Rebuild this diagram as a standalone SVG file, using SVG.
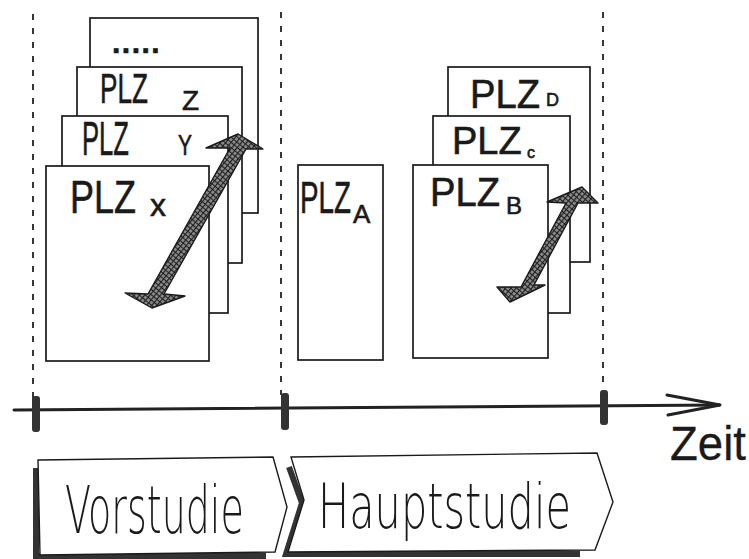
<svg xmlns="http://www.w3.org/2000/svg" width="749" height="559" viewBox="0 0 749 559">
<defs>
<pattern id="hatch" width="4" height="4" patternUnits="userSpaceOnUse" patternTransform="rotate(40)">
<rect width="4" height="4" fill="#8a8a8a"/>
<path d="M0,0.5 H4 M0.5,0 V4" stroke="#1e1e1e" stroke-width="1.2"/>
</pattern>
</defs>
<style>
.bg{fill:#fff}
.box{fill:#fff;stroke:#1a1a1a;stroke-width:1.7}
.dash{fill:none;stroke:#222;stroke-width:1.8;stroke-dasharray:6 8}
.lbl{font-family:"Liberation Sans",Arial,sans-serif;fill:#1a1a1a;stroke:#1a1a1a;stroke-width:0.6}
.thin{font-family:"DejaVu Sans","Liberation Sans",sans-serif;font-weight:200;fill:#1a1a1a}
.arr{fill:url(#hatch);stroke:#1a1a1a;stroke-width:1.4;stroke-linejoin:round}
.tick{fill:#333}
.shadow{fill:none;stroke:#333;stroke-width:6;stroke-linejoin:miter}
.phase{fill:#fff;stroke:#1a1a1a;stroke-width:1.4;stroke-linejoin:miter}
.axis{fill:none;stroke:#222;stroke-width:3;stroke-linecap:round}
</style>
<rect class="bg" width="749" height="559"/>

<g id="guides">
<path class="dash" d="M33,14 V398"/>
<path class="dash" d="M281,12 V395"/>
<path class="dash" d="M603,12 V392"/>
</g>

<g id="plz-dots"><rect class="box" x="90" y="18" width="168" height="195"/>
<text class="lbl" x="112" y="53" font-size="30" font-weight="bold" letter-spacing="1.5">.....</text></g>
<g id="plz-z"><rect class="box" x="77" y="67" width="165" height="196"/>
<text class="lbl" transform="translate(100,103) scale(0.608,1)" font-size="43">PLZ</text>
<text class="lbl" x="182" y="110" font-size="28">Z</text></g>
<g id="plz-y"><rect class="box" x="62" y="116" width="166" height="197"/>
<text class="lbl" transform="translate(82,155) scale(0.534,1)" font-size="48">PLZ</text>
<text class="lbl" transform="translate(178,155) scale(0.7,1)" font-size="30">Y</text></g>
<g id="plz-x"><rect class="box" x="46" y="166" width="163" height="195"/>
<text class="lbl" transform="translate(70,213) scale(0.782,1)" font-size="46">PLZ</text>
<text class="lbl" x="150" y="216" font-size="32">x</text></g>

<g id="plz-a"><rect class="box" x="298" y="165" width="85" height="195"/>
<text class="lbl" transform="translate(300,213) scale(0.632,1)" font-size="44">PLZ</text>
<text class="lbl" x="353" y="223" font-size="26">A</text></g>

<g id="plz-d"><rect class="box" x="448" y="67" width="142" height="195"/>
<text class="lbl" transform="translate(470,108) scale(0.954,1)" font-size="40">PLZ</text>
<text class="lbl" x="546" y="106" font-size="18">D</text></g>
<g id="plz-c"><rect class="box" x="433" y="116" width="137" height="197"/>
<text class="lbl" x="452" y="154" font-size="38">PLZ</text>
<text class="lbl" x="527" y="158" font-size="16">c</text></g>
<g id="plz-b"><rect class="box" x="413" y="165" width="135" height="193"/>
<text class="lbl" transform="translate(430,206) scale(0.954,1)" font-size="40">PLZ</text>
<text class="lbl" x="506" y="214" font-size="24">B</text></g>

<g id="connectors">
<path class="arr" d="M206,148 L238,134 L263,149 L246,149 L164,294 L185,296 L152,308 L125,293 L148,294 L230,148 Z"/>
<path class="arr" d="M547,202 L582,187 L598,203 L578,203 L534,285 L545,285 L510,302 L497,287 L521,287 L566,203 Z"/>
</g>

<g id="timeline">
<path class="axis" d="M14,410 Q300,409 720,405"/>
<path class="axis" d="M667,395 L720,405 L668,415"/>
<rect class="tick" x="32" y="396" width="8" height="36" rx="3"/>
<rect class="tick" x="281" y="393" width="8" height="37" rx="3"/>
<rect class="tick" x="600" y="390" width="8" height="35" rx="3"/>
<text class="lbl" transform="translate(670,460) scale(0.95,1)" font-size="48" style="stroke-width:0.3">Zeit</text>
</g>

<g id="vorstudie">
<path class="shadow" d="M36,468 V556 H266"/>
<path class="phase" d="M38,460 L273,457 L287,507 L275,552 L40,555 Z"/>
<text class="thin" transform="translate(65,533) scale(0.576,1)" font-size="66">Vorstudie</text>
</g>

<g id="hauptstudie">
<path class="shadow" d="M289,467 L302,503 L286,554 H580"/>
<path class="phase" d="M291,457 L597,453 L613,502 L595,550 L288,552 L304,500 Z"/>
<text class="thin" transform="translate(318,528) scale(0.669,1)" font-size="62">Hauptstudie</text>
</g>
</svg>
